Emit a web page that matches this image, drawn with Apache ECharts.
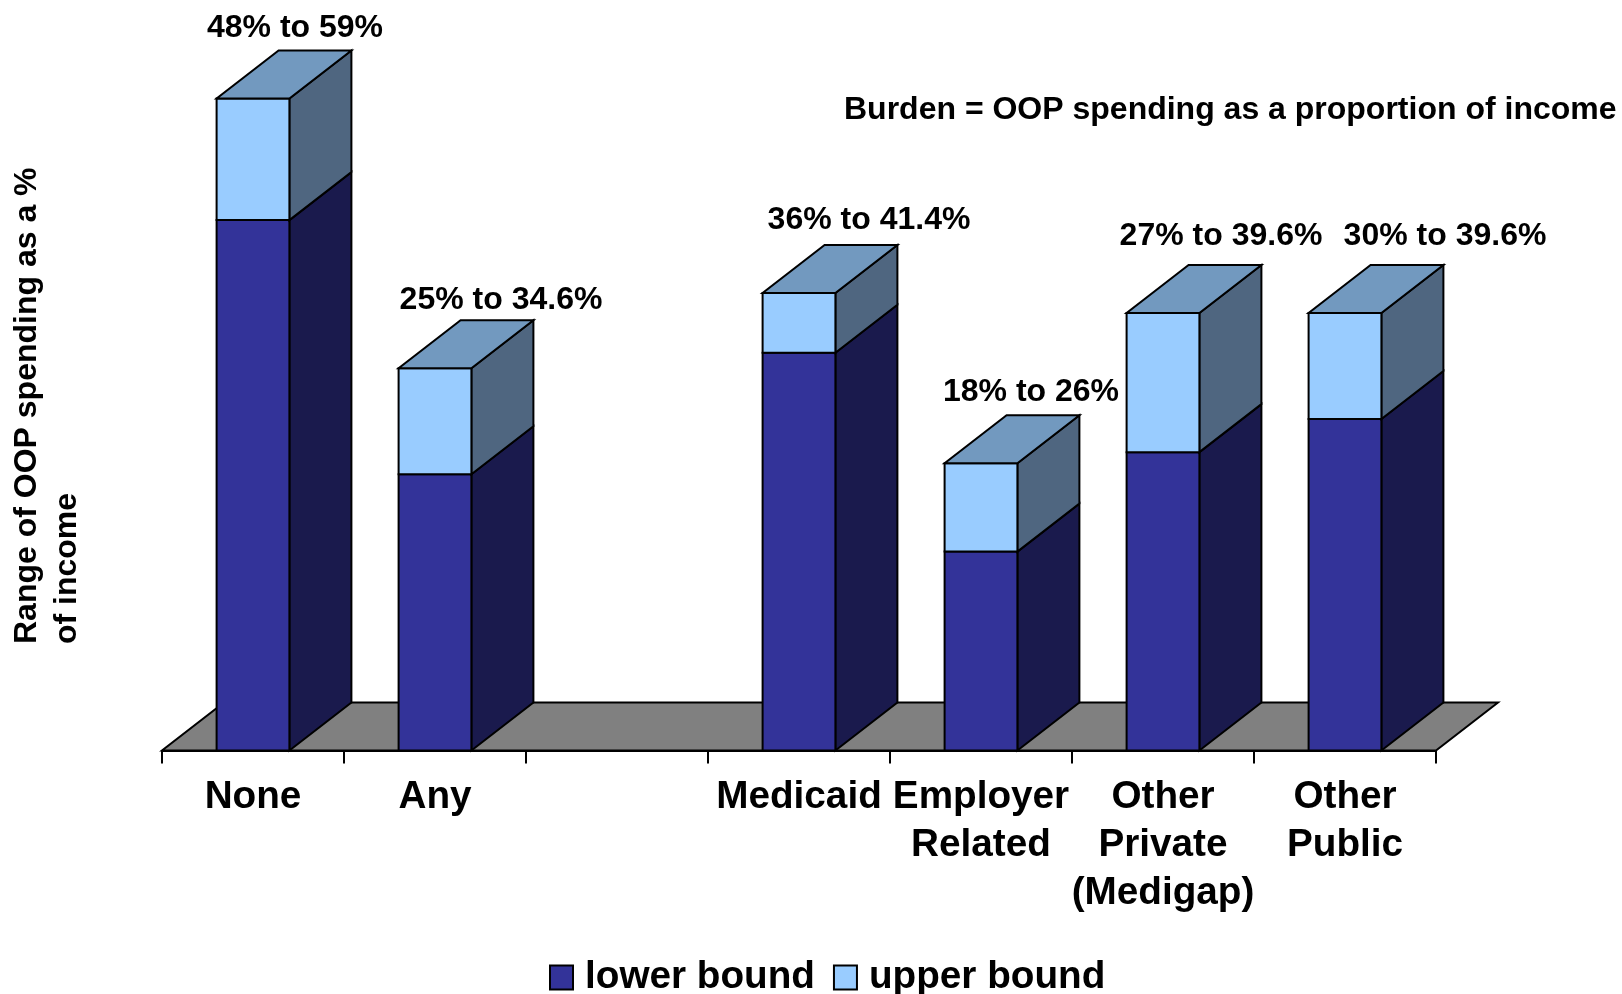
<!DOCTYPE html>
<html>
<head>
<meta charset="utf-8">
<style>html,body{margin:0;padding:0;background:#fff}#c{width:1622px;height:994px}</style>
<script src="https://cdn.jsdelivr.net/npm/echarts@6/dist/echarts.min.js"></script>
</head>
<body>
<div id="c"></div>
<script>
const categories = ['None', 'Any', '', 'Medicaid', 'Employer\nRelated', 'Other\nPrivate\n(Medigap)', 'Other\nPublic'];
const lowerBound = [48, 25, null, 36, 18, 27, 30];
const upperBound = [59, 34.6, null, 41.4, 26, 39.6, 39.6];
const yAxisTitle = 'Range of OOP spending as a %\nof income';
const noteText = 'Burden = OOP spending as a proportion of income';

// Styling only: hand-placed range label offsets from each bar's front-top centre
const labelShiftX = [42, 66, 0, 70, 50, 58, 100];
const labelShiftY = [-70, -68, 0, -73, -71, -77, -77];
const FONT = '"Liberation Sans", Arial, sans-serif';
const DX = 62, DY = 48;
const EDGE = {stroke: '#000', lineWidth: 2, lineJoin: 'miter'};

const rows = categories.map((c, i) => [i, lowerBound[i], upperBound[i]]);

function poly(points, fill) {
  return {type: 'polygon', shape: {points}, style: Object.assign({fill}, EDGE)};
}
function box(api, from, to, front, side, top) {
  const i = api.value(0);
  const band = api.size([1, 0])[0];
  const w = band * 0.4;
  const xc = api.coord([i, 0])[0];
  const x0 = xc - w / 2, x1 = xc + w / 2;
  const y0 = api.coord([i, from])[1], y1 = api.coord([i, to])[1];
  const kids = [
    poly([[x1, y0], [x1 + DX, y0 - DY], [x1 + DX, y1 - DY], [x1, y1]], side),
    poly([[x0, y0], [x1, y0], [x1, y1], [x0, y1]], front)
  ];
  if (top) kids.push(poly([[x0, y1], [x1, y1], [x1 + DX, y1 - DY], [x0 + DX, y1 - DY]], top));
  return kids;
}

const option = {
  animation: false,
  backgroundColor: '#fff',
  grid: {left: 162, width: 1274, top: 87.5, height: 663},
  xAxis: {
    type: 'category',
    data: categories,
    boundaryGap: true,
    axisLine: {lineStyle: {color: '#000', width: 2}},
    axisTick: {show: true, length: 13, lineStyle: {color: '#000', width: 2}},
    axisLabel: {interval: 0, margin: 23, color: '#000', fontFamily: FONT, fontWeight: 'bold', fontSize: 38.7, lineHeight: 48}
  },
  yAxis: {type: 'value', min: 0, max: 60, show: false},
  legend: {
    left: 549, top: 958, padding: 0, itemGap: 18, itemWidth: 23, itemHeight: 24,
    data: ['lower bound', 'upper bound'],
    icon: 'rect',
    textStyle: {color: '#000', fontFamily: FONT, fontWeight: 'bold', fontSize: 38.7, padding: [0, 0, 0, 7]}
  },
  graphic: [
    {type: 'text', x: 47, y: 644, rotation: Math.PI / 2,
     style: {text: yAxisTitle, fill: '#000', font: 'bold 32px ' + FONT, lineHeight: 40, align: 'left', verticalAlign: 'middle'}},
    {type: 'text', x: 844, y: 110,
     style: {text: noteText, fill: '#000', font: 'bold 32px ' + FONT, align: 'left', verticalAlign: 'middle'}}
  ],
  series: [
    {
      name: 'floor', type: 'custom', silent: true, z: 1,
      data: [[0]],
      clip: false,
      renderItem: (p, api) => {
        const band = api.size([1, 0])[0];
        const y = api.coord([0, 0])[1];
        const xl = api.coord([0, 0])[0] - band / 2;
        const xr = api.coord([categories.length - 1, 0])[0] + band / 2;
        return poly([[xl, y], [xr, y], [xr + DX, y - DY], [xl + DX, y - DY]], '#808080');
      }
    },
    {
      name: 'lower bound', type: 'custom', z: 2, clip: false,
      itemStyle: {color: '#333399', borderColor: '#000', borderWidth: 2},
      data: rows,
      encode: {x: 0, y: 1},
      renderItem: (p, api) => {
        if (isNaN(api.value(1))) return null;
        return {type: 'group', children: box(api, 0, api.value(1), '#333399', '#1a1a4d')};
      }
    },
    {
      name: 'upper bound', type: 'custom', z: 3, clip: false,
      itemStyle: {color: '#99ccff', borderColor: '#000', borderWidth: 2},
      data: rows,
      encode: {x: 0, y: 2},
      renderItem: (p, api) => {
        if (isNaN(api.value(1))) return null;
        const i = api.value(0);
        const lo = api.value(1), hi = api.value(2);
        const kids = box(api, lo, hi, '#99ccff', '#4f6680', '#7299bf');
        const pt = api.coord([i, hi]);
        kids.push({
          type: 'text', x: pt[0] + labelShiftX[i], y: pt[1] + labelShiftY[i],
          style: {text: lo + '% to ' + hi + '%', fill: '#000', font: 'bold 32px ' + FONT, align: 'center', verticalAlign: 'middle'}
        });
        return {type: 'group', children: kids};
      }
    }
  ]
};
echarts.init(document.getElementById('c'), null, {renderer: 'canvas'}).setOption(option);
</script>
</body>
</html>
